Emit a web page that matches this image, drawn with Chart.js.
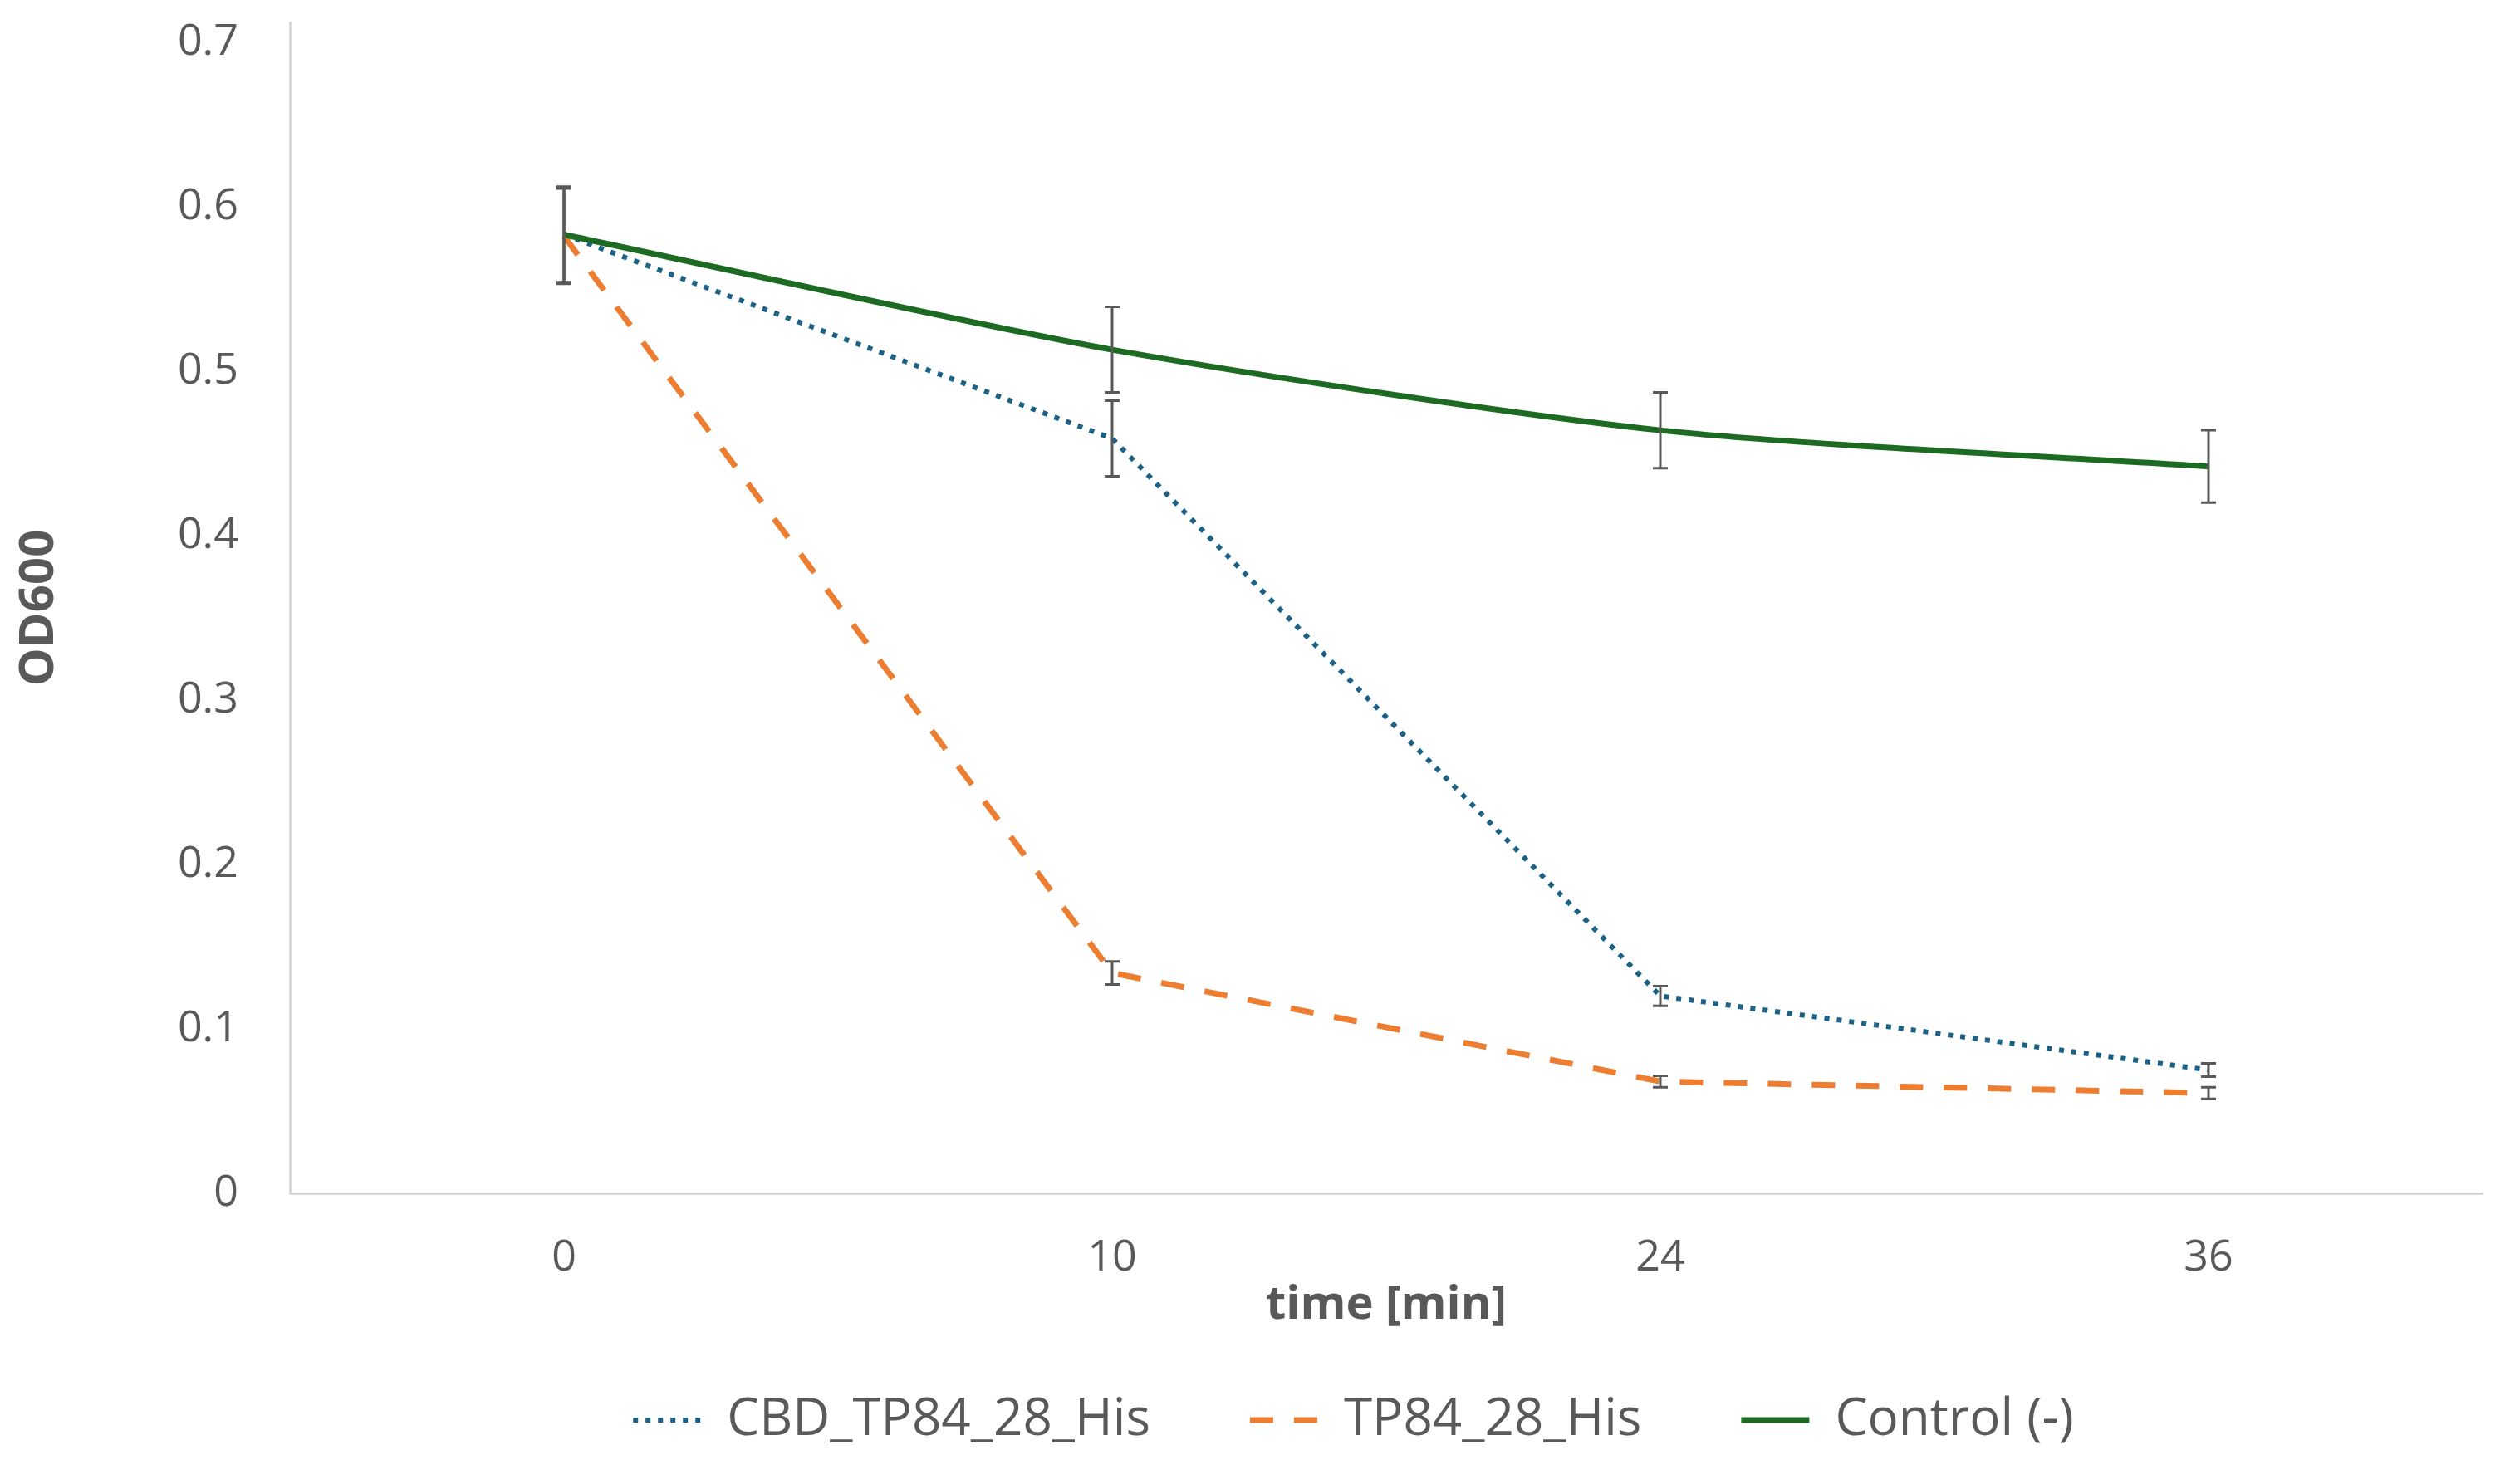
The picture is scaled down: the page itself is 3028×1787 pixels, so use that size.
<!DOCTYPE html>
<html>
<head>
<meta charset="utf-8">
<script src="https://cdn.jsdelivr.net/npm/chart.js@4.4.1/dist/chart.umd.min.js"></script>
<style>
  html, body { margin: 0; padding: 0; background: #fff; overflow: hidden; }
  canvas { display: block; }
</style>
</head>
<body>
<canvas id="chart_od" width="3028" height="1787"></canvas>
<script>
// values
const timeLabels = ['0', '10', '24', '36'];
const yTicks = [0, 0.1, 0.2, 0.3, 0.4, 0.5, 0.6, 0.7];

const cbdValues = [0.583, 0.459, 0.120, 0.075];
const cbdErrors = [0.029, 0.023, 0.006, 0.004];

const tpValues = [0.582, 0.134, 0.068, 0.061];
const tpErrors = [0.029, 0.007, 0.0035, 0.0035];

const ctlValues = [0.583, 0.513, 0.464, 0.442];
const ctlErrors = [0.029, 0.026, 0.023, 0.022];

const textGrey = '#595959';
const fontName = '"Open Sans", "Noto Sans", sans-serif';
const LEGEND_SHIFT = 135;

// error bars, drawn through the chart scales
const errorBars = {
    id: 'errorBars',
    afterDatasetsDraw(chart) {
        const ctx = chart.ctx;
        const x = chart.scales.x;
        const y = chart.scales.y;
        ctx.save();
        ctx.strokeStyle = textGrey;
        ctx.lineWidth = 3;
        chart.data.datasets.forEach(ds => {
            ds.errors.forEach((e, i) => {
                const v = ds.data[i];
                const px = x.getPixelForValue(i);
                const top = y.getPixelForValue(v + e);
                const bot = y.getPixelForValue(v - e);
                ctx.beginPath();
                ctx.moveTo(px, top);
                ctx.lineTo(px, bot);
                ctx.moveTo(px - 9, top);
                ctx.lineTo(px + 9, top);
                ctx.moveTo(px - 9, bot);
                ctx.lineTo(px + 9, bot);
                ctx.stroke();
            });
        });
        ctx.restore();
    }
};

// legend sits a bit right of the canvas centre, like in Excel
const legendShift = {
    id: 'legendShift',
    afterLayout(chart) {
        chart.legend.left += LEGEND_SHIFT;
        chart.legend.right += LEGEND_SHIFT;
    }
};

// legend samples keep the dash pattern of their line
function lineLegendLabels(chart) {
    const items = Chart.defaults.plugins.legend.labels.generateLabels(chart);
    items.forEach(item => {
        const ds = chart.data.datasets[item.datasetIndex];
        item.lineDash = ds.borderDash || [];
        item.lineCap = ds.borderCapStyle || 'butt';
        item.lineWidth = ds.borderWidth;
        item.strokeStyle = ds.borderColor;
        item.pointStyle = 'line';
    });
    return items;
}

const ctx = document.getElementById('chart_od');

const graph_od = new Chart(ctx, {
    type: 'line',
    data: {
        labels: timeLabels,
        datasets: [{
            label: 'CBD_TP84_28_His',
            data: cbdValues,
            errors: cbdErrors,
            borderColor: '#1B6286',
            backgroundColor: '#1B6286',
            borderWidth: 6,
            borderDash: [6, 9],
            borderCapStyle: 'butt',
            pointRadius: 0,
            tension: 0,
            order: 2
        }, {
            label: 'TP84_28_His',
            data: tpValues,
            errors: tpErrors,
            borderColor: '#ED7D31',
            backgroundColor: '#ED7D31',
            borderWidth: 7,
            borderDash: [28, 25],
            borderCapStyle: 'butt',
            pointRadius: 0,
            tension: 0,
            order: 1
        }, {
            label: 'Control (-)',
            data: ctlValues,
            errors: ctlErrors,
            borderColor: '#1D6B22',
            backgroundColor: '#1D6B22',
            borderWidth: 7,
            pointRadius: 0,
            tension: 0.25,
            order: 0
        }]
    },
    options: {
        responsive: false,
        animation: false,
        devicePixelRatio: 1,
        layout: {
            padding: { top: 27, right: 39, bottom: 36, left: 0 }
        },
        plugins: {
            tooltip: { enabled: false },
            legend: {
                position: 'bottom',
                labels: {
                    usePointStyle: true,
                    pointStyle: 'line',
                    pointStyleWidth: 82,
                    padding: 120,
                    color: textGrey,
                    font: { family: fontName, size: 62 },
                    generateLabels: lineLegendLabels,
                    sort: (a, b) => a.datasetIndex - b.datasetIndex
                }
            }
        },
        scales: {
            x: {
                offset: true,
                grid: { display: false, drawTicks: false },
                border: { display: true, color: '#D9D9D9', width: 3 },
                ticks: {
                    padding: 47,
                    color: textGrey,
                    font: { family: fontName, size: 52 }
                },
                title: {
                    display: true,
                    text: 'time [min]',
                    color: textGrey,
                    font: { family: fontName, size: 56, weight: 'bold' },
                    padding: { top: 0, bottom: -47 }
                },
                afterFit: scale => {
                    scale.height = 122;
                    scale.paddingLeft = 0;
                    scale.paddingRight = 0;
                }
            },
            y: {
                min: 0,
                max: 0.712,
                grid: { display: false, drawTicks: false },
                border: { display: true, color: '#D9D9D9', width: 3 },
                afterBuildTicks: scale => {
                    scale.ticks = yTicks.map(v => ({ value: v }));
                },
                ticks: {
                    padding: 62,
                    color: textGrey,
                    font: { family: fontName, size: 52 },
                    callback: v => String(Math.round(v * 10) / 10)
                },
                title: {
                    display: true,
                    text: 'OD600',
                    color: textGrey,
                    font: { family: fontName, size: 58, weight: 'bold' },
                    padding: { top: 13, bottom: 0 }
                },
                afterFit: scale => {
                    scale.width = 349;
                    scale.paddingTop = 0;
                    scale.paddingBottom = 0;
                }
            }
        }
    },
    plugins: [errorBars, legendShift]
});
</script>
</body>
</html>
